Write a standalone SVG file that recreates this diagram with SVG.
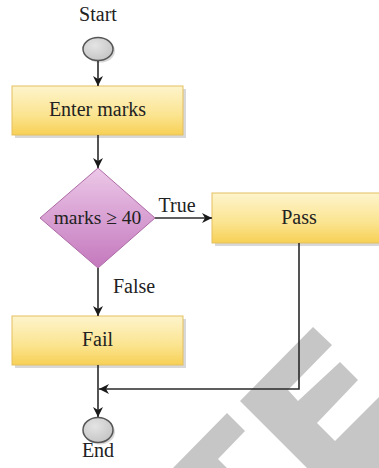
<svg xmlns="http://www.w3.org/2000/svg" width="379" height="468" viewBox="0 0 379 468">
  <defs>
    <linearGradient id="yel" x1="0" y1="0" x2="0" y2="1">
      <stop offset="0" stop-color="#fdf4cc"/>
      <stop offset="0.6" stop-color="#fbe48f"/>
      <stop offset="1" stop-color="#f7d055"/>
    </linearGradient>
    <linearGradient id="pink" x1="0" y1="0" x2="0" y2="1">
      <stop offset="0" stop-color="#ecc8e8"/>
      <stop offset="1" stop-color="#c478bd"/>
    </linearGradient>
    <radialGradient id="grey" cx="0.4" cy="0.35" r="0.7">
      <stop offset="0" stop-color="#e4e4e4"/>
      <stop offset="1" stop-color="#c4c4c4"/>
    </radialGradient>
    <marker id="arr" viewBox="0 0 10 10" refX="10" refY="5" markerWidth="10" markerHeight="10" markerUnits="userSpaceOnUse" orient="auto">
      <path d="M0,0 L10,5 L0,10 L3,5 z" fill="#1a1a1a"/>
    </marker>
  </defs>
  <style>
    text { font-family: "Liberation Serif", "Times New Roman", serif; font-size: 20px; fill: #222222; text-anchor: middle; }
    .box { fill: url(#yel); stroke: #e3c060; stroke-width: 1; }
    .shadow { fill: #c8c8c8; opacity: 0.7; }
    .term { fill: url(#grey); stroke: #555555; stroke-width: 1.5; }
    .conn { fill: none; stroke: #2a2a2a; stroke-width: 1.6; }
    .wm { fill: #c6c6c6; }
  </style>
  <rect width="379" height="468" fill="#ffffff"/>

  <g id="watermark">
    <polygon class="wm" points="313,327 332,345 288,390 298,401 340,362 358,380 317,423 335,441 379,397 379,468 307,468 240,401"/>
    <polygon class="wm" points="227,413 245,431 218,459 227,468 173,468"/>
  </g>

  <g id="start">
    <text x="98" y="21">Start</text>
    <ellipse cx="100" cy="51" rx="15" ry="11.5" class="shadow"/>
    <ellipse cx="98" cy="49" rx="15" ry="11.5" class="term"/>
  </g>

  <g id="enter">
    <rect x="15" y="89" width="171" height="49" class="shadow"/>
    <rect x="12" y="86" width="171" height="49" class="box"/>
    <text x="97.5" y="116">Enter marks</text>
  </g>

  <g id="decision">
    <polygon points="98,168 155,218 98,268 40,218" fill="url(#pink)" stroke="#ad6aa5" stroke-width="1"/>
    <text x="97.5" y="224" style="font-size:19.5px">marks ≥ 40</text>
  </g>

  <g id="pass">
    <rect x="215" y="196" width="170" height="50" class="shadow"/>
    <rect x="212" y="193" width="170" height="50" class="box"/>
    <text x="299" y="224">Pass</text>
  </g>

  <g id="fail">
    <rect x="15" y="319" width="171" height="49" class="shadow"/>
    <rect x="12" y="316" width="171" height="49" class="box"/>
    <text x="97.5" y="346">Fail</text>
  </g>

  <g id="end">
    <ellipse cx="100" cy="432" rx="15" ry="12.5" class="shadow"/>
    <ellipse cx="98" cy="430" rx="15" ry="12.5" class="term"/>
    <text x="98" y="457">End</text>
  </g>

  <g id="connectors">
    <line class="conn" x1="98" y1="61" x2="98" y2="86" marker-end="url(#arr)"/>
    <line class="conn" x1="98" y1="135" x2="98" y2="168" marker-end="url(#arr)"/>
    <line class="conn" x1="155" y1="218" x2="212" y2="218" marker-end="url(#arr)"/>
    <line class="conn" x1="98" y1="268" x2="98" y2="316" marker-end="url(#arr)"/>
    <line class="conn" x1="98" y1="365" x2="98" y2="417" marker-end="url(#arr)"/>
    <polyline class="conn" points="299,243 299,389 99,389" marker-end="url(#arr)"/>
    <text x="177" y="212">True</text>
    <text x="134" y="293">False</text>
  </g>
</svg>
